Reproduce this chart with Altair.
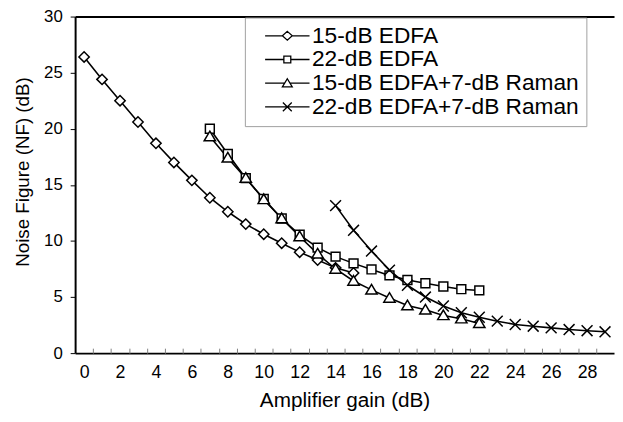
import altair as alt
import pandas as pd

# ---- data ----
series_names = ["15-dB EDFA", "22-dB EDFA", "15-dB EDFA+7-dB Raman", "22-dB EDFA+7-dB Raman"]

gain_1 = list(range(0, 16))
nf_1 = [26.4, 24.4, 22.5, 20.6, 18.7, 17.0, 15.4, 13.85, 12.6, 11.5, 10.6, 9.8, 9.0, 8.3, 7.6, 7.15]

gain_2 = list(range(7, 23))
nf_2 = [20.0, 17.75, 15.6, 13.75, 12.0, 10.55, 9.4, 8.6, 8.0, 7.46, 6.93, 6.52, 6.23, 5.94, 5.7, 5.59]

gain_3 = list(range(7, 23))
nf_3 = [19.3, 17.4, 15.6, 13.7, 12.0, 10.4, 8.85, 7.5, 6.43, 5.64, 4.91, 4.24, 3.86, 3.36, 3.07, 2.65]

gain_4 = list(range(14, 30))
nf_4 = [13.15, 10.95, 9.1, 7.4, 6.05, 5.0, 4.2, 3.6, 3.2, 2.85, 2.55, 2.4, 2.25, 2.1, 2.0, 1.9]

x_label_values = list(range(0, 29, 2))
x_tick_values = [i + 0.5 for i in range(0, 29)]
y_tick_values = [0, 5, 10, 15, 20, 25, 30]

frames = []
for name, gx, gy in zip(series_names, [gain_1, gain_2, gain_3, gain_4], [nf_1, nf_2, nf_3, nf_4]):
    frames.append(pd.DataFrame({"gain": gx, "nf": gy, "series": name}))
df = pd.concat(frames, ignore_index=True)

FONT = "Liberation Sans"

# marker shapes (plot) and line+marker shapes (legend)
plot_shapes = [
    "M-1.05,0L0,-1.05L1.05,0L0,1.05Z",
    "M-0.9,-0.9H0.9V0.9H-0.9Z",
    "M0,-1.1L1.15,0.85L-1.15,0.85Z",
    "M-1.1,-1.1L1.1,1.1M-1.1,1.1L1.1,-1.1",
]
legend_shapes = [
    "M0.4,0H3.9M5.9,0H9.4M4.9,-0.9L5.9,0L4.9,0.9L3.9,0Z",
    "M0.4,0H4.2M5.6,0H9.4M4.2,-0.7H5.6V0.7H4.2Z",
    "M0.4,0H4.35M5.45,0H9.4M4.9,-0.9L5.9,0.75L3.9,0.75Z",
    "M0.4,0H9.4M4.0,-0.9L5.8,0.9M4.0,0.9L5.8,-0.9",
]

x_scale = alt.Scale(domain=[-0.5, 29.5], nice=False, zero=False)
y_scale = alt.Scale(domain=[0, 30], nice=False)

y_enc = alt.Y(
    "nf:Q",
    scale=y_scale,
    axis=alt.Axis(
        values=y_tick_values, title="Noise Figure (NF) (dB)", grid=False,
        domainColor="black", domainWidth=2, tickColor="black", tickSize=5, tickWidth=1,
        labelFontSize=17, labelColor="black", labelFont=FONT, labelPadding=8,
        titleFontSize=19, titleFont=FONT, titleColor="black", titleFontWeight="normal",
        titlePadding=11, titleY=157,
    ),
)

lines = alt.Chart(df).mark_line(color="black", strokeWidth=1.6).encode(
    x=alt.X(
        "gain:Q", scale=x_scale,
        axis=alt.Axis(
            orient="bottom", values=x_label_values, ticks=False, grid=False,
            domainColor="black", domainWidth=2,
            labelFontSize=18, labelColor="black", labelFont=FONT, labelPadding=11,
            title="Amplifier gain (dB)", titleFontSize=21, titleFont=FONT,
            titleColor="black", titleFontWeight="normal", titlePadding=8,
        ),
    ),
    y=y_enc,
    detail="series:N",
)

points = alt.Chart(df).mark_point(
    filled=True, fill="white", stroke="black", strokeWidth=1.5, size=100, opacity=1
).encode(
    x=alt.X(
        "gain:Q", scale=x_scale,
        axis=alt.Axis(
            orient="bottom", values=x_tick_values, labels=False, domain=False, grid=False,
            tickSize=5, tickColor="#808080", tickWidth=1, offset=-5, title=None,
        ),
    ),
    y=alt.Y("nf:Q", scale=y_scale),
    shape=alt.Shape("series:N", scale=alt.Scale(domain=series_names, range=plot_shapes), legend=None),
)

legend_layer = alt.Chart(df).transform_filter("false").mark_point(
    filled=False, stroke="black", strokeWidth=1.3, opacity=1
).encode(
    x=alt.X(
        "gain:Q", scale=x_scale,
        axis=alt.Axis(
            orient="top", values=[], labels=False, ticks=False, grid=False,
            domainColor="black", domainWidth=2, title=None,
        ),
    ),
    y=alt.Y("nf:Q", scale=y_scale),
    shape=alt.Shape(
        "series:N",
        scale=alt.Scale(domain=series_names, range=legend_shapes),
        legend=alt.Legend(
            title=None, orient="none", legendX=172, legendY=1,
            symbolSize=100, symbolOpacity=1,
            symbolStrokeColor="black", symbolStrokeWidth=1.3,
            labelFontSize=23, labelFont=FONT, labelColor="black", labelOffset=38,
            rowPadding=0, padding=7, strokeColor="#a0a0a0", fillColor="white",
            labelLimit=400,
        ),
    ),
)

chart = (
    alt.layer(lines, points, legend_layer)
    .resolve_axis(x="independent")
    .resolve_scale(shape="independent")
    .properties(
        width=546, height=341,
        autosize=alt.AutoSizeParams(type="none"),
        padding={"left": 68, "top": 6, "right": 1, "bottom": 59},
        background="white",
    )
    .configure_view(stroke=None)
)

chart.save("out.html", embed_options={"renderer": "svg", "actions": False})
